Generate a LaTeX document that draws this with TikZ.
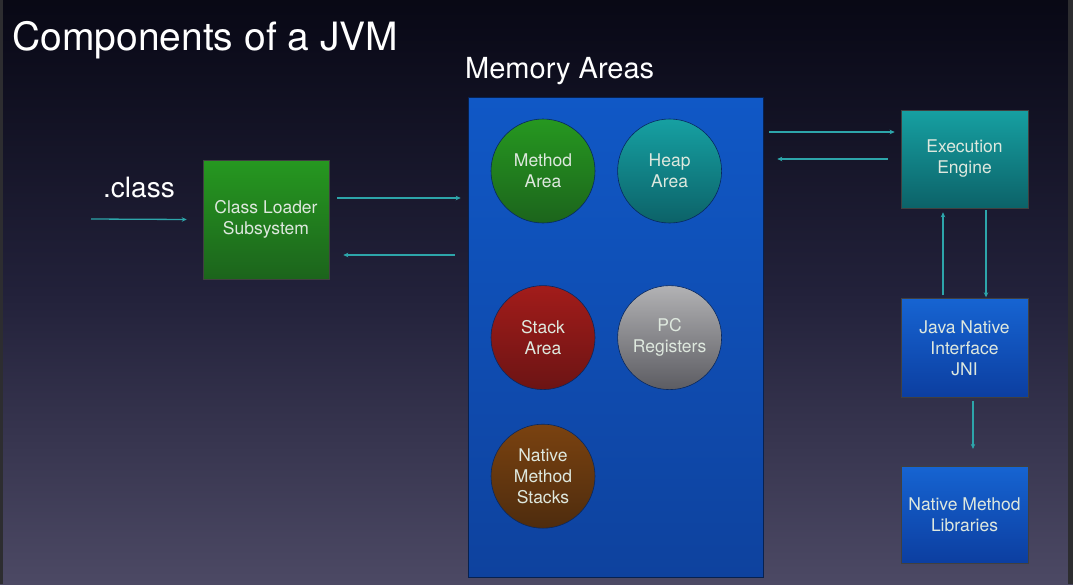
\documentclass[tikz,border=0pt]{standalone}
\usepackage{fontspec}
\setmainfont{TeX Gyre Heros}
\usepackage{tikz}
\usetikzlibrary{positioning,arrows.meta}

\definecolor{bgA}{RGB}{110,106,130}
\definecolor{bgB}{RGB}{76,73,100}
\definecolor{bgC}{RGB}{34,33,58}
\definecolor{bgD}{RGB}{10,10,24}
\definecolor{bgE}{RGB}{2,2,4}
\definecolor{stripgray}{RGB}{45,45,48}
\definecolor{flowteal}{RGB}{45,165,170}
\definecolor{boxtext}{RGB}{222,232,222}
\definecolor{greentop}{RGB}{38,152,32}
\definecolor{greenbot}{RGB}{28,100,28}
\definecolor{tealtop}{RGB}{22,160,162}
\definecolor{tealbot}{RGB}{12,98,104}
\definecolor{bluetop}{RGB}{22,100,210}
\definecolor{bluebot}{RGB}{12,62,160}
\definecolor{memtop}{RGB}{16,88,198}
\definecolor{membot}{RGB}{14,66,158}
\definecolor{redtop}{RGB}{162,28,26}
\definecolor{redbot}{RGB}{108,20,20}
\definecolor{greytop}{RGB}{178,178,180}
\definecolor{greybot}{RGB}{92,92,98}
\definecolor{browntop}{RGB}{122,66,16}
\definecolor{brownbot}{RGB}{78,44,14}

\pgfdeclareverticalshading{slidebg}{100bp}{color(0bp)=(bgA); color(25bp)=(bgB);
  color(50bp)=(bgC); color(73bp)=(bgD); color(85bp)=(bgE); color(100bp)=(bgE)}

\newcommand\boxfont{\fontsize{17.5}{21}\selectfont}

\begin{document}
\begin{tikzpicture}[
    x=1pt, y=-1pt,
    block/.style={rectangle, draw=black!75, line width=0.6pt, align=center,
      text=boxtext, font=\boxfont, minimum width=127pt},
    area/.style={circle, draw=membot!60!black, line width=0.6pt, align=center,
      text=boxtext, font=\boxfont, minimum size=104pt, inner sep=0pt},
    flow/.style={-{Stealth[length=5pt,width=4.5pt]}, line width=1.3pt, draw=flowteal}
]
    % slide background
    \shade[shading=slidebg] (0,0) rectangle (1073,584);
    \fill[stripgray] (0,0) rectangle (3,584);
    \fill[stripgray] (1068,0) rectangle (1073,584);

    % titles
    \node[anchor=base west, inner sep=0pt, text=white, font=\fontsize{39}{44}\selectfont]
      (title) at (12,50) {Components of a JVM};
    \node[anchor=base west, inner sep=0pt, text=white, font=\fontsize{29}{34}\selectfont]
      (memtitle) at (465,78) {Memory Areas};
    \node[anchor=base west, inner sep=0pt, text=white, font=\fontsize{28}{32}\selectfont]
      (cls) at (103,197) {.class};

    % boxes
    \node[block, minimum width=126pt, minimum height=119pt, top color=greentop, bottom color=greenbot]
      (loader) at (266,219.5) {Class Loader\\Subsystem};
    \node[rectangle, draw=membot!50!black, line width=0.6pt, minimum width=295pt, minimum height=480pt,
      top color=memtop, bottom color=membot] (mem) at (615.5,337) {};
    \node[block, minimum height=98pt, top color=tealtop, bottom color=tealbot]
      (ee) at (964.5,159) {Execution\\Engine};
    \node[block, minimum height=99pt, below=90pt of ee, top color=bluetop, bottom color=bluebot]
      (jni) {Java Native\\Interface\\JNI};
    \node[block, minimum height=97pt, below=68pt of jni, top color=bluetop, bottom color=bluebot]
      (nml) {Native Method\\Libraries};

    % memory areas
    \node[area, top color=greentop, bottom color=greenbot] (method) at (543,171) {Method\\Area};
    \node[area, right=22pt of method, top color=tealtop, bottom color=tealbot] (heap) {Heap\\Area};
    \node[area, below=62pt of method, top color=redtop, bottom color=redbot] (stack) {Stack\\Area};
    \node[area, right=22pt of stack, top color=greytop, bottom color=greybot] (pc) {PC\\Registers};
    \node[area, below=34pt of stack, top color=browntop, bottom color=brownbot] (nms) {Native\\Method\\Stacks};

    % connectors
    \coordinate (src) at (91,219);
    \draw[flow] (src) -- ([xshift=-16pt]loader.west);
    \draw[flow] ([xshift=8pt,yshift=21.5pt]loader.east) -- ([xshift=-7pt,yshift=139pt]mem.west);
    \draw[flow] ([xshift=-13pt,yshift=82pt]mem.west) -- ([xshift=14pt,yshift=-35.5pt]loader.east);
    \draw[flow] ([xshift=6pt,yshift=205pt]mem.east) -- ([xshift=-6pt,yshift=27pt]ee.west);
    \draw[flow] ([xshift=-13pt]ee.west) -- ([xshift=14pt,yshift=178pt]mem.east);
    \draw[flow] ([xshift=-21.5pt,yshift=3pt]jni.north) -- ([xshift=-21.5pt,yshift=-4pt]ee.south);
    \draw[flow] ([xshift=21.5pt,yshift=-2pt]ee.south) -- ([xshift=21.5pt,yshift=1pt]jni.north);
    \draw[flow] ([xshift=8.5pt,yshift=-3pt]jni.south) -- ([xshift=8.5pt,yshift=17pt]nml.north);
\end{tikzpicture}
\end{document}
